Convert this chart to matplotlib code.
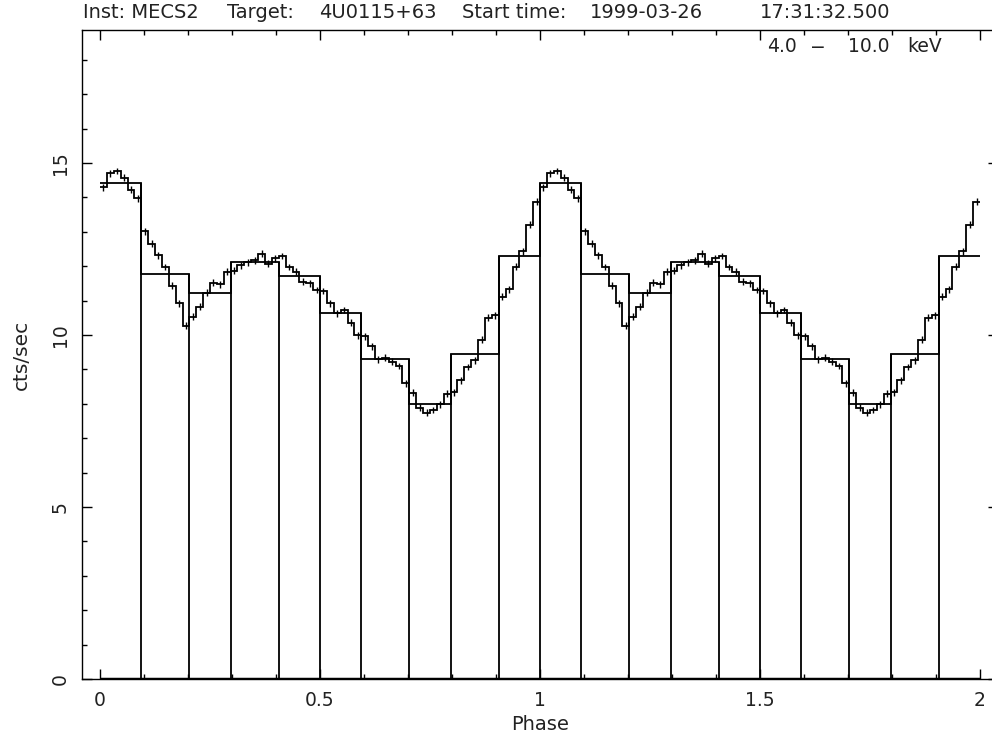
import numpy as np
import matplotlib
matplotlib.use("Agg")
import matplotlib.pyplot as plt
from matplotlib.ticker import MultipleLocator

# ---- data (one pulse cycle, shown twice) ----
fine_rate = [14.30, 14.70, 14.77, 14.58, 14.22, 13.98, 13.02, 12.66,
             12.32, 11.98, 11.44, 10.92, 10.27, 10.53, 10.82, 11.23,
             11.52, 11.48, 11.84, 11.87, 12.03, 12.11, 12.18, 12.37,
             12.08, 12.23, 12.30, 11.98, 11.84, 11.55, 11.50, 11.31,
             11.28, 10.92, 10.63, 10.73, 10.36, 10.00, 9.97, 9.68,
             9.30, 9.34, 9.22, 9.10, 8.60, 8.32, 7.89, 7.74,
             7.82, 7.99, 8.30, 8.34, 8.69, 9.07, 9.27, 9.87,
             10.51, 10.58, 11.12, 11.33, 11.99, 12.43, 13.21, 13.88]
fine_err = 0.10
coarse_edges = [0.0, 0.094, 0.203, 0.297, 0.406, 0.5, 0.594, 0.703, 0.797, 0.906, 1.0]
coarse_rate = [14.42, 11.79, 11.23, 12.11, 11.73, 10.63, 9.31, 7.99, 9.46, 12.31]
n_cycles = 2

# header text pieces (text, left x in pixels)
title_parts = [("Inst: MECS2", 83), ("Target:", 227), ("4U0115+63", 319),
               ("Start time:", 462), ("1999-03-26", 590), ("17:31:32.500", 760)]
band_parts = [("4.0", 767), ("\u2212", 810), ("10.0", 848), ("keV", 907)]
xlabel = "Phase"
ylabel = "cts/sec"

# ---- build arrays over two cycles ----
nf = len(fine_rate)
fine_vals = np.tile(fine_rate, n_cycles)
fine_edges = np.concatenate([np.arange(nf) / nf + c for c in range(n_cycles)] + [[float(n_cycles)]])
fine_centers = 0.5 * (fine_edges[:-1] + fine_edges[1:])
ce = np.array(coarse_edges)
coarse_all_edges = np.concatenate([ce[:-1] + c for c in range(n_cycles)] + [[float(n_cycles)]])
coarse_vals = np.tile(coarse_rate, n_cycles)

plt.rcParams['font.family'] = ['DejaVu Sans']
W, H = 992, 740
fig = plt.figure(figsize=(W / 100, H / 100), dpi=100)
ax = fig.add_axes([82 / W, 61 / H, 916 / W, 649 / H])

txt_color = "#222222"

# coarse histogram with bars down to zero at internal edges
ax.stairs(coarse_vals, coarse_all_edges, baseline=None, color="black", lw=1.3)
inner = coarse_all_edges[1:-1]
tops = np.maximum(coarse_vals[:-1], coarse_vals[1:])
ax.vlines(inner, 0, tops, color="black", lw=1.3)
ax.hlines(0, coarse_all_edges[0], coarse_all_edges[-1], color="black", lw=2.5)

# fine light curve
ax.stairs(fine_vals, fine_edges, baseline=None, color="black", lw=1.3)
ax.errorbar(fine_centers, fine_vals, yerr=fine_err, fmt="none", ecolor="black", elinewidth=1.0)

ax.set_xlim(-18 / 440, 2 + 18 / 440)
ax.set_ylim(0, 18.87)

ax.xaxis.set_major_locator(MultipleLocator(0.5))
ax.xaxis.set_minor_locator(MultipleLocator(0.1))
ax.yaxis.set_major_locator(MultipleLocator(5))
ax.yaxis.set_minor_locator(MultipleLocator(1))
ax.xaxis.set_major_formatter(plt.FuncFormatter(lambda v, p: f"{v:g}"))
ax.yaxis.set_major_formatter(plt.FuncFormatter(lambda v, p: f"{v:g}"))

ax.tick_params(which="both", direction="in", top=True, right=True, color="black", width=1.0)
ax.tick_params(which="major", length=7.2)
ax.tick_params(which="minor", length=3.6)
ax.tick_params(axis="x", which="major", labelsize=13.5, pad=9, labelcolor=txt_color)
ax.tick_params(axis="y", which="major", labelsize=13.5, pad=9, labelcolor=txt_color)
for lab in ax.get_yticklabels():
    lab.set_rotation(90)
    lab.set_va("center")

for s in ax.spines.values():
    s.set_linewidth(1.0)

ax.set_xlabel(xlabel, fontsize=14, color=txt_color, labelpad=3)
ax.set_ylabel(ylabel, fontsize=14.5, color=txt_color, labelpad=14)

for t, x in title_parts:
    fig.text(x / W, 1 - 13 / H, t, fontsize=14, color=txt_color, ha="left", va="center")
for t, x in band_parts:
    fig.text(x / W, 1 - 47 / H, t, fontsize=13.5, color=txt_color, ha="left", va="center")

fig.savefig("out.png", dpi=100)
